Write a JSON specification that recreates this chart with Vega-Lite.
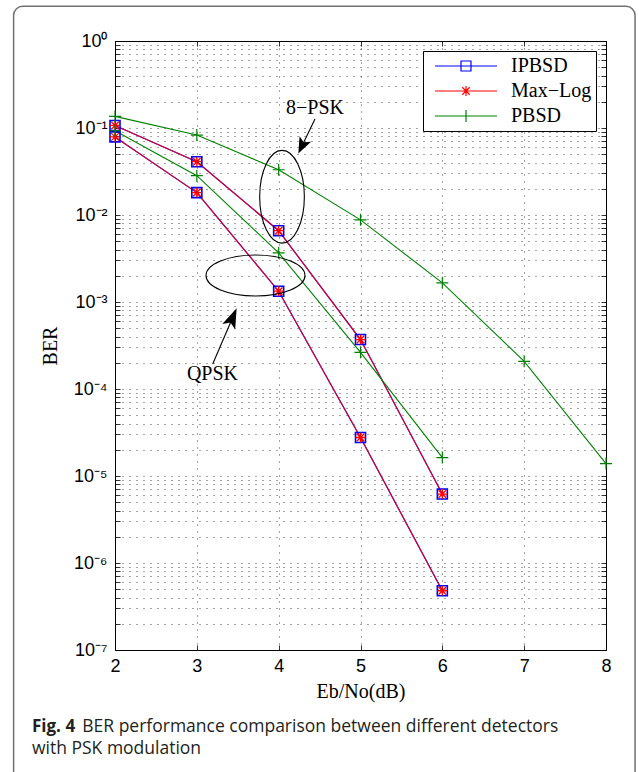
{
"$schema": "https://vega.github.io/schema/vega-lite/v6.json",
"width": 491, "height": 609,
"autosize": {"type": "none"},
"padding": {"left": 115, "top": 41, "right": 33, "bottom": 122},
"background": "white",
"config": {"view": {"stroke": "black", "strokeWidth": 1}},
"datasets": {
 "ber": [
  {"series":"IPBSD","mod":"8PSK","x":2,"ber":0.107},
  {"series":"IPBSD","mod":"8PSK","x":3,"ber":0.041},
  {"series":"IPBSD","mod":"8PSK","x":4,"ber":0.0066},
  {"series":"IPBSD","mod":"8PSK","x":5,"ber":0.00037},
  {"series":"IPBSD","mod":"8PSK","x":6,"ber":0.0000062},
  {"series":"IPBSD","mod":"QPSK","x":2,"ber":0.079},
  {"series":"IPBSD","mod":"QPSK","x":3,"ber":0.0181},
  {"series":"IPBSD","mod":"QPSK","x":4,"ber":0.00133},
  {"series":"IPBSD","mod":"QPSK","x":5,"ber":0.0000277},
  {"series":"IPBSD","mod":"QPSK","x":6,"ber":0.00000048},
  {"series":"Max−Log","mod":"8PSK","x":2,"ber":0.107},
  {"series":"Max−Log","mod":"8PSK","x":3,"ber":0.041},
  {"series":"Max−Log","mod":"8PSK","x":4,"ber":0.0066},
  {"series":"Max−Log","mod":"8PSK","x":5,"ber":0.00037},
  {"series":"Max−Log","mod":"8PSK","x":6,"ber":0.0000062},
  {"series":"Max−Log","mod":"QPSK","x":2,"ber":0.079},
  {"series":"Max−Log","mod":"QPSK","x":3,"ber":0.0181},
  {"series":"Max−Log","mod":"QPSK","x":4,"ber":0.00133},
  {"series":"Max−Log","mod":"QPSK","x":5,"ber":0.0000277},
  {"series":"Max−Log","mod":"QPSK","x":6,"ber":0.00000048},
  {"series":"PBSD","mod":"8PSK","x":2,"ber":0.136},
  {"series":"PBSD","mod":"8PSK","x":3,"ber":0.083},
  {"series":"PBSD","mod":"8PSK","x":4,"ber":0.0331},
  {"series":"PBSD","mod":"8PSK","x":5,"ber":0.0088},
  {"series":"PBSD","mod":"8PSK","x":6,"ber":0.00166},
  {"series":"PBSD","mod":"8PSK","x":7,"ber":0.000208},
  {"series":"PBSD","mod":"8PSK","x":8,"ber":0.0000139},
  {"series":"PBSD","mod":"QPSK","x":2,"ber":0.093},
  {"series":"PBSD","mod":"QPSK","x":3,"ber":0.0283},
  {"series":"PBSD","mod":"QPSK","x":4,"ber":0.00367},
  {"series":"PBSD","mod":"QPSK","x":5,"ber":0.000264},
  {"series":"PBSD","mod":"QPSK","x":6,"ber":0.0000163}
 ],
 "frame": [{"x": 0.761, "x2": 8.355, "ber": 2.507, "ber2": 0.0000000024}],
 "ellipse8": [{"x": 4.041, "ber": 0.0162}],
 "ellipseQ": [{"x": 3.717, "ber": 0.002017}],
 "labels": [{"text": "8−PSK", "x": 4.444, "ber": 0.1684}, {"text": "QPSK", "x": 3.191, "ber": 0.0001486}],
 "shafts": [{"x": 4.444, "ber": 0.1269, "x2": 4.283, "ber2": 0.06163}, {"x": 3.194, "ber": 0.0001938, "x2": 3.438, "ber2": 0.000664}],
 "head8": [{"x": 4.283, "ber": 0.06163}],
 "headQ": [{"x": 3.438, "ber": 0.000664}],
 "capBold": [{"text": "Fig. 4", "x": 0.9857, "ber": 0.00000001303}],
 "capReg": [{"text": "BER performance comparison between different detectors", "x": 1.6, "ber": 0.00000001303}, {"text": "with PSK modulation", "x": 0.9857, "ber": 0.00000000728}]
},
"resolve": {"axis": {"x": "independent", "y": "independent"}},
"encoding": {
 "x": {"field": "x", "type": "quantitative", "scale": {"domain": [2, 8], "nice": false, "zero": false}, "axis": null},
 "y": {"field": "ber", "type": "quantitative", "scale": {"type": "log", "domain": [0.0000001, 1], "nice": false}, "axis": null}
},
"layer": [
 {"data": {"name": "frame"}, "mark": {"type": "rect", "filled": false, "stroke": "#707070", "strokeWidth": 1.5, "cornerRadius": 9, "clip": false},
  "encoding": {"x2": {"field": "x2"}, "y2": {"field": "ber2"}}},
 {"data": {"name": "ber"}, "transform": [{"filter": "datum.series == 'IPBSD'"}],
  "mark": {"type": "line", "stroke": "#0000ff", "strokeWidth": 1.2},
  "encoding": {
   "detail": {"field": "mod"},
   "x": {"field": "x", "type": "quantitative", "scale": {"domain": [2, 8], "nice": false, "zero": false},
    "axis": {"orient": "bottom", "values": [2,3,4,5,6,7,8], "grid": true, "gridColor": "#000000", "gridDash": [1, 6], "gridWidth": 0.8, "gridOpacity": 0.9, "domain": false, "tickSize": -5, "tickColor": "black", "tickWidth": 0.8, "labelFont": "Liberation Sans", "labelFontSize": 18, "labelColor": "black", "labelPadding": 12, "labelFlush": false, "labelOverlap": false, "format": "d", "title": "Eb/No(dB)", "titleFont": "Liberation Serif", "titleFontSize": 20, "titleFontWeight": "normal", "titleColor": "black", "titlePadding": 6}},
   "y": {"field": "ber", "type": "quantitative", "scale": {"type": "log", "domain": [0.0000001, 1], "nice": false},
    "axis": {"orient": "left", "values": [1e-7,2e-7,3e-7,4e-7,5e-7,6e-7,7e-7,8e-7,9e-7,1e-6,2e-6,3e-6,4e-6,5e-6,6e-6,7e-6,8e-6,9e-6,1e-5,2e-5,3e-5,4e-5,5e-5,6e-5,7e-5,8e-5,9e-5,1e-4,2e-4,3e-4,4e-4,5e-4,6e-4,7e-4,8e-4,9e-4,0.001,0.002,0.003,0.004,0.005,0.006,0.007,0.008,0.009,0.01,0.02,0.03,0.04,0.05,0.06,0.07,0.08,0.09,0.1,0.2,0.3,0.4,0.5,0.6,0.7,0.8,0.9,1],
     "grid": true, "gridColor": "#000000", "gridDash": [1, 6], "gridWidth": 0.8, "gridOpacity": 0.9, "domain": false, "tickSize": -5, "tickColor": "black", "tickWidth": 0.8,
     "labelExpr": "abs(log(datum.value)/LN10 - round(log(datum.value)/LN10)) < 0.000001 ? '10' + ['⁰','⁻¹','⁻²','⁻³','⁻⁴','⁻⁵','⁻⁶','⁻⁷'][abs(round(log(datum.value)/LN10))] : ''",
     "labelFont": "Liberation Sans", "labelFontSize": 18, "labelColor": "black", "labelPadding": 13, "labelOverlap": false, "labelBound": false, "labelFlush": false,
     "title": "BER", "titleFont": "Liberation Serif", "titleFontSize": 20, "titleFontWeight": "normal", "titleColor": "black", "titlePadding": 13}}
  }},
 {"data": {"name": "ber"}, "transform": [{"filter": "datum.series == 'Max−Log'"}],
  "mark": {"type": "line", "stroke": "#ff0000", "strokeWidth": 1.2, "opacity": 0.82},
  "encoding": {"detail": {"field": "mod"}}},
 {"data": {"name": "ber"}, "transform": [{"filter": "datum.series == 'PBSD'"}],
  "mark": {"type": "line", "stroke": "#008000", "strokeWidth": 1.1},
  "encoding": {
   "detail": {"field": "mod"},
   "x": {"field": "x", "type": "quantitative", "scale": {"domain": [2, 8], "nice": false, "zero": false},
    "axis": {"orient": "top", "values": [2,3,4,5,6,7,8], "grid": false, "labels": false, "domain": false, "tickSize": -5, "tickColor": "black", "tickWidth": 0.8, "title": null}},
   "y": {"field": "ber", "type": "quantitative", "scale": {"type": "log", "domain": [0.0000001, 1], "nice": false},
    "axis": {"orient": "right", "values": [1e-7,2e-7,3e-7,4e-7,5e-7,6e-7,7e-7,8e-7,9e-7,1e-6,2e-6,3e-6,4e-6,5e-6,6e-6,7e-6,8e-6,9e-6,1e-5,2e-5,3e-5,4e-5,5e-5,6e-5,7e-5,8e-5,9e-5,1e-4,2e-4,3e-4,4e-4,5e-4,6e-4,7e-4,8e-4,9e-4,0.001,0.002,0.003,0.004,0.005,0.006,0.007,0.008,0.009,0.01,0.02,0.03,0.04,0.05,0.06,0.07,0.08,0.09,0.1,0.2,0.3,0.4,0.5,0.6,0.7,0.8,0.9,1], "grid": false, "labels": false, "domain": false, "tickSize": -5, "tickColor": "black", "tickWidth": 0.8, "title": null}}
  }},
 {"data": {"name": "ber"}, "transform": [{"filter": "datum.series == 'IPBSD'"}],
  "mark": {"type": "point", "shape": "square", "size": 100, "filled": false, "stroke": "#0000ff", "strokeWidth": 1.6, "opacity": 1}},
 {"data": {"name": "ber"}, "transform": [{"filter": "datum.series == 'Max−Log'"}],
  "mark": {"type": "point", "shape": "M-1,0H1M0,-1V1M-0.75,-0.75L0.75,0.75M-0.75,0.75L0.75,-0.75", "size": 100, "filled": false, "stroke": "#ff0000", "strokeWidth": 1.3, "opacity": 1}},
 {"data": {"name": "ber"}, "transform": [{"filter": "datum.series == 'PBSD'"}],
  "mark": {"type": "point", "shape": "M-1,0H1M0,-1V1", "size": 144, "filled": false, "stroke": "#008000", "strokeWidth": 1.2, "opacity": 1}},
 {"data": {"name": "ber"},
  "mark": {"type": "point", "filled": false, "opacity": 0, "strokeWidth": 1.2},
  "encoding": {
   "color": {"field": "series", "type": "nominal", "scale": {"domain": ["IPBSD", "Max−Log", "PBSD"], "range": ["#0000ff", "#ff0000", "#008000"]},
    "legend": {"orient": "top-right", "offset": 10, "title": null, "fillColor": "white", "strokeColor": "black", "padding": 4, "labelFont": "Liberation Serif", "labelFontSize": 20, "labelColor": "black", "labelOffset": 13, "symbolOffset": 7, "symbolSize": 3844, "symbolStrokeWidth": 1.2, "symbolOpacity": 1, "clipHeight": 22, "rowPadding": 3}},
   "shape": {"field": "series", "type": "nominal", "scale": {"domain": ["IPBSD", "Max−Log", "PBSD"], "range": ["M-1,0H1M-0.161,-0.161H0.161V0.161H-0.161Z", "M-1,0H1M0,-0.161V0.161M-0.12,-0.12L0.12,0.12M-0.12,0.12L0.12,-0.12", "M-1,0H1M0,-0.194V0.194"]},
    "legend": {"orient": "top-right", "offset": 10, "title": null, "fillColor": "white", "strokeColor": "black", "padding": 4, "labelFont": "Liberation Serif", "labelFontSize": 20, "labelColor": "black", "labelOffset": 13, "symbolOffset": 7, "symbolSize": 3844, "symbolStrokeWidth": 1.2, "symbolOpacity": 1, "clipHeight": 22, "rowPadding": 3}}
  }},
 {"data": {"name": "ellipse8"},
  "mark": {"type": "point", "shape": "M-0.482,0A0.482,1,0,1,0,0.482,0A0.482,1,0,1,0,-0.482,0Z", "size": 8593, "filled": false, "stroke": "black", "strokeWidth": 1.1, "opacity": 1}},
 {"data": {"name": "ellipseQ"},
  "mark": {"type": "point", "shape": "M-1,0A1,0.414,0,1,0,1,0A1,0.414,0,1,0,-1,0Z", "size": 9801, "filled": false, "stroke": "black", "strokeWidth": 1.1, "opacity": 1}},
 {"data": {"name": "shafts"},
  "mark": {"type": "rule", "stroke": "black", "strokeWidth": 1.1},
  "encoding": {"x2": {"field": "x2"}, "y2": {"field": "ber2"}}},
 {"data": {"name": "head8"},
  "mark": {"type": "point", "shape": "M0,-1L0.8,1L0,0.55L-0.8,1Z", "size": 256, "filled": true, "fill": "black", "stroke": null, "angle": 205.8, "opacity": 1}},
 {"data": {"name": "headQ"},
  "mark": {"type": "point", "shape": "M0,-1L0.7,1L0,0.55L-0.7,1Z", "size": 400, "filled": true, "fill": "black", "stroke": null, "angle": 23.3, "opacity": 1}},
 {"data": {"name": "labels"},
  "mark": {"type": "text", "font": "Liberation Serif", "fontSize": 20, "color": "black", "align": "center", "baseline": "middle"},
  "encoding": {"text": {"field": "text"}}},
 {"data": {"name": "capBold"},
  "mark": {"type": "text", "font": "Open Sans", "fontSize": 17, "fontWeight": "bold", "color": "#231f20", "align": "left", "baseline": "middle", "clip": false},
  "encoding": {"text": {"field": "text"}}},
 {"data": {"name": "capReg"},
  "mark": {"type": "text", "font": "Open Sans", "fontSize": 17.5, "color": "#231f20", "align": "left", "baseline": "middle", "clip": false},
  "encoding": {"text": {"field": "text"}}}
]
}
